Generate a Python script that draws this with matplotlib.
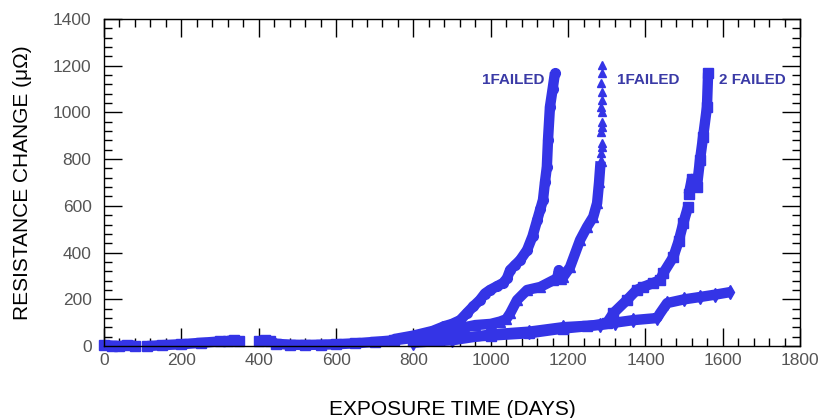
import numpy as np
import matplotlib
matplotlib.use("Agg")
import matplotlib.pyplot as plt
from matplotlib.ticker import MultipleLocator

plt.rcParams["font.family"] = ["Liberation Sans", "DejaVu Sans"]

nan = np.nan

# early readings, all specimens overlap (days, micro-ohm)
early_days = [0, 20, 40, 60, 80, nan, 112, 150, 200, 250, 300, nan,
              320, 335, 350, nan, 400, 415, 430, 445, 480, 520, 560, 600,
              650, 700, 750, 800]
early_vals = [5, 2, 0, 3, 2, nan, 0, 4, 8, 14, 20, nan,
              22, 25, 20, nan, 20, 25, 22, 10, 6, 5, 6, 8,
              12, 18, 25, 35]

# specimen A (circles) - failed ~1166 days
a_days = [750, 800, 850, 880, 900, 921, 938, 955, 972, 985, 998, 1015, 1032,
          1042, 1050, 1062, 1076, 1094, 1108, 1120, 1128, 1135, 1140, 1145,
          1148, 1153, 1160, 1166]
a_vals = [30, 45, 65, 85, 95, 111, 141, 170, 197, 225, 240, 255, 270,
          290, 325, 345, 368, 411, 470, 539, 585, 625, 700, 766,
          882, 1023, 1100, 1169]

# specimen B (triangles) - failed ~1287 days
b_days = [800, 850, 900, 930, 960, 1000, 1024, 1040, 1050, 1068, 1094, 1128,
          1162, 1172, 1176, 1182, 1187, 1205, 1231, 1249, 1265, 1275, 1280,
          1284]
b_vals = [25, 40, 60, 80, 90, 95, 105, 115, 140, 197, 240, 253,
          282, 290, 325, 285, 295, 338, 454, 510, 553, 612, 700,
          790]
b_top_days = [1286, 1287, 1287, 1286, 1287, 1288, 1287, 1286, 1287, 1287,
              1286, 1287, 1288]
b_top_vals = [826, 852, 869, 916, 938, 959, 1002, 1023, 1053, 1087, 1126,
              1169, 1203]

# specimen C (squares) - failed ~1562 days
c_days = [800, 900, 1000, 1100, 1187, 1250, 1300, 1317, 1352, 1377, 1394,
          1420, 1438, 1446, 1472, 1486, 1498, 1510, nan, 1512, 1520, 1530,
          nan, 1533, 1541, 1549, 1559, 1562]
c_vals = [20, 35, 45, 55, 75, 85, 98, 141, 197, 240, 253,
          270, 283, 312, 381, 450, 527, 595, nan, 650, 715, 700,
          nan, 682, 796, 895, 1023, 1169]

# specimen D (diamonds) - still running at ~1620 days
d_days = [800, 900, 1000, 1100, 1187, 1283, 1320, 1368, 1430, 1438, 1456,
          1500, 1541, 1580, 1619]
d_vals = [15, 25, 50, 62, 81, 90, 100, 111, 120, 141, 184,
          200, 210, 220, 231]

blue = "#3434e6"
txt = "#3a3aa6"

fig = plt.figure(figsize=(8.19, 4.18), dpi=100)
ax = fig.add_axes([0.127, 0.172, 0.85, 0.783])

kw = dict(color=blue, lw=7.5, ms=7, clip_on=False, solid_capstyle="butt")
ax.plot(early_days, early_vals, marker="s", **kw)
ax.plot(a_days, a_vals, marker="o", **kw)
ax.plot(b_days, b_vals, marker="^", **kw)
ax.plot(b_top_days, b_top_vals, "^", color=blue, ms=6, clip_on=False)
ax.plot(c_days, c_vals, marker="s", **kw)
ax.plot(d_days, d_vals, marker="d", **kw)

ax.text(1140, 1140, "1FAILED", color=txt, fontsize=11, fontweight="bold",
        ha="right", va="center")
ax.text(1327, 1140, "1FAILED", color=txt, fontsize=11, fontweight="bold",
        ha="left", va="center")
ax.text(1590, 1140, "2 FAILED", color=txt, fontsize=11, fontweight="bold",
        ha="left", va="center")

ax.set_xlim(0, 1800)
ax.set_ylim(0, 1400)
ax.xaxis.set_major_locator(MultipleLocator(200))
ax.yaxis.set_major_locator(MultipleLocator(200))
ax.xaxis.set_minor_locator(MultipleLocator(40))
ax.yaxis.set_minor_locator(MultipleLocator(40))
ax.tick_params(which="both", direction="in", top=True, right=True,
               width=1, colors="black", labelcolor="#555555", labelsize=12.5)
ax.tick_params(which="major", length=13)
ax.tick_params(which="minor", length=6)
ax.tick_params(axis="y", pad=9)
ax.tick_params(axis="x", pad=5)
for s in ax.spines.values():
    s.set_linewidth(1)

ax.set_xlabel("EXPOSURE TIME (DAYS)", fontsize=15, labelpad=23)
ax.set_ylabel("RESISTANCE CHANGE (\u03bc\u03a9)", fontsize=15, labelpad=15)

fig.savefig("out.png", dpi=100)
